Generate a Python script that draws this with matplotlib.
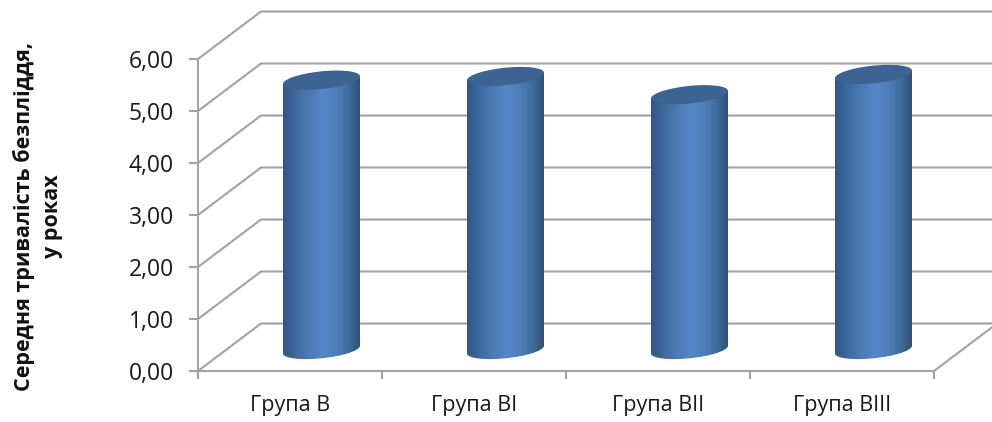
import numpy as np
import matplotlib
matplotlib.use("Agg")
import matplotlib.pyplot as plt
from matplotlib.colors import LinearSegmentedColormap
from matplotlib.patches import Polygon

groups = ["Група В", "Група ВІ", "Група ВІІ", "Група ВІІІ"]
values = [5.18, 5.25, 4.90, 5.29]
y_ticks = [0, 1, 2, 3, 4, 5, 6]
y_title = "Середня тривалість безпліддя,\nу роках"

plt.rcParams['font.family'] = ['Open Sans', 'DejaVu Sans']

W, H = 992, 422
fig = plt.figure(figsize=(W / 100, H / 100), dpi=100)
# axes box is the front plane of the 3d chart
ax = fig.add_axes([198 / W, 1 - 371 / H, (934 - 198) / W, (371 - 59) / H])
ax.set_xlim(0, 4)
ax.set_ylim(0, 6)
ax.patch.set_alpha(0)

GREY = "#a3a3a3"
# oblique depth in data units
dx = 63 / 184
dy = 47.5 / 52

for v in y_ticks:
    ax.plot([0, dx, 4.6], [v, v + dy, v + dy], color=GREY, lw=1.5, clip_on=False, zorder=1)
ax.plot([4, 4 + dx], [0, dy], color=GREY, lw=1.5, clip_on=False, zorder=1)

cyl_cmap = LinearSegmentedColormap.from_list(
    "cyl", ["#2f5583", "#3f6a9e", "#4a79b3", "#5587c8", "#4f80bd", "#41709f", "#2f5078"])
grad = np.linspace(0, 1, 256).reshape(1, -1)

half_w = 38.5 / 184
rad_y = 8.8 / 52
tilt = 3.8 / 52
base_y = 21.5 / 52
t = np.linspace(0, 2 * np.pi, 200)

for i, val in enumerate(values):
    cx = i + 0.5 + dx / 2
    top_y = base_y + val
    ex = half_w * np.cos(t)
    ey = rad_y * np.sin(t) + tilt * np.cos(t)

    # body outline: lower half of the base ellipse, then across the top
    low = np.sin(t) <= 0
    order = np.argsort(ex[low])
    body = np.r_[
        np.c_[cx + ex[low][order], base_y + ey[low][order]],
        [[cx + half_w, top_y + tilt], [cx - half_w, top_y - tilt]],
    ]
    shape = Polygon(body, closed=True, transform=ax.transData, fc="none", ec="none")
    ax.add_patch(shape)
    img = ax.imshow(grad, cmap=cyl_cmap, aspect="auto", zorder=2,
                    extent=[cx - half_w, cx + half_w, -1, 7])
    img.set_clip_path(shape)
    ax.fill(cx + ex, top_y + ey, color="#3c6391", zorder=3, lw=0)

ax.set_xlim(0, 4)
ax.set_ylim(0, 6)

for side in ["top", "right"]:
    ax.spines[side].set_visible(False)
for side in ["left", "bottom"]:
    ax.spines[side].set_color(GREY)
    ax.spines[side].set_linewidth(1.5)

ax.set_yticks(y_ticks)
ax.set_yticklabels([f"{v:.2f}".replace(".", ",") for v in y_ticks], fontsize=16.5, color="#1a1a1a")
ax.set_xticks(range(5))
ax.set_xticklabels([])
ax.set_xticks(np.arange(4) + 0.5, minor=True)
ax.set_xticklabels(groups, minor=True, fontsize=15.5, color="#1a1a1a")
ax.tick_params(axis="y", length=6.5, width=1.5, color=GREY, pad=11)
ax.tick_params(axis="x", which="major", length=6, width=1.5, color=GREY)
ax.tick_params(axis="x", which="minor", length=0, pad=17)

fig.text(38 / W, 1 - 216 / H, y_title, rotation=90, ha="center", va="center",
         fontsize=15.5, fontweight="bold", color="#111111", linespacing=1.45)

fig.savefig("out.png", dpi=100)
